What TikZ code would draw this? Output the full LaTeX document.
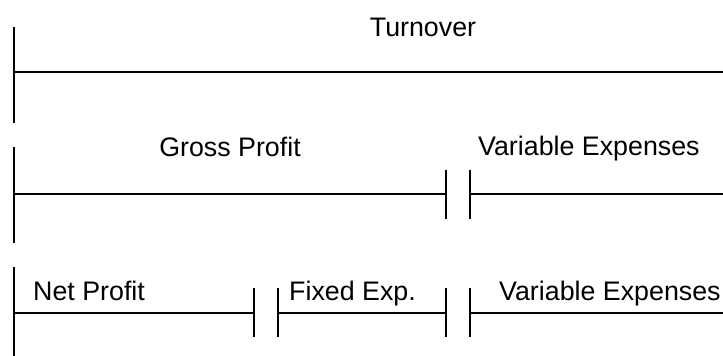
\documentclass[tikz,border=0pt]{standalone}
\usepackage{fontspec}
\setmainfont{Liberation Sans}
\usetikzlibrary{positioning}
\tikzset{
    barline/.style={
        draw,
        line width=1.4pt
    },
    barlabel/.style={
        inner sep=0pt,
        font=\fontsize{26.8}{30}\selectfont
    }
}

\begin{document}
\begin{tikzpicture}[x=1pt, y=-1pt]
    \useasboundingbox (0,0) rectangle (723,356);
    % Turnover
    \begin{scope}
        \coordinate (T0) at (14,72);
        \coordinate (T1) at (723,72);
        \draw[barline] (14,27) -- (14,123);
        \draw[barline] (T0) -- (T1);
        \node[barlabel, anchor=base] (turnover) at (423,36) {Turnover};
    \end{scope}
    % Gross profit and variable expenses
    \begin{scope}
        \coordinate (G0) at (14,194);
        \coordinate (G1) at (446,194);
        \coordinate (V0) at (470,194);
        \coordinate (V1) at (723,194);
        \draw[barline] (14,147) -- (14,243);
        \draw[barline] (G0) -- (G1);
        \draw[barline] (V0) -- (V1);
        \draw[barline] ([yshift=-25pt]G1) -- ([yshift=24pt]G1);
        \draw[barline] ([yshift=-25pt]V0) -- ([yshift=24pt]V0);
        \node[barlabel, anchor=base] (gross) at (230,156) {Gross Profit};
        \node[barlabel, anchor=base west] (var1) at (478,155) {Variable Expenses};
    \end{scope}
    % Net profit, fixed and variable expenses
    \begin{scope}
        \coordinate (N0) at (14,313);
        \coordinate (N1) at (254,313);
        \coordinate (F0) at (278,313);
        \coordinate (F1) at (446,313);
        \coordinate (W0) at (470,313);
        \coordinate (W1) at (723,313);
        \draw[barline] (14,267) -- (14,356);
        \draw[barline] (N0) -- (N1);
        \draw[barline] (F0) -- (F1);
        \draw[barline] (W0) -- (W1);
        \draw[barline] ([yshift=-24pt]N1) -- ([yshift=25pt]N1);
        \draw[barline] ([yshift=-24pt]F0) -- ([yshift=25pt]F0);
        \draw[barline] ([yshift=-24pt]F1) -- ([yshift=25pt]F1);
        \draw[barline] ([yshift=-24pt]W0) -- ([yshift=25pt]W0);
        \node[barlabel, anchor=base west] (net) at (33,300) {Net Profit};
        \node[barlabel, anchor=base west] (fixed) at (289,300) {Fixed Exp.};
        \node[barlabel, anchor=base west] (var2) at (499,300) {Variable Expenses};
    \end{scope}
\end{tikzpicture}
\end{document}
